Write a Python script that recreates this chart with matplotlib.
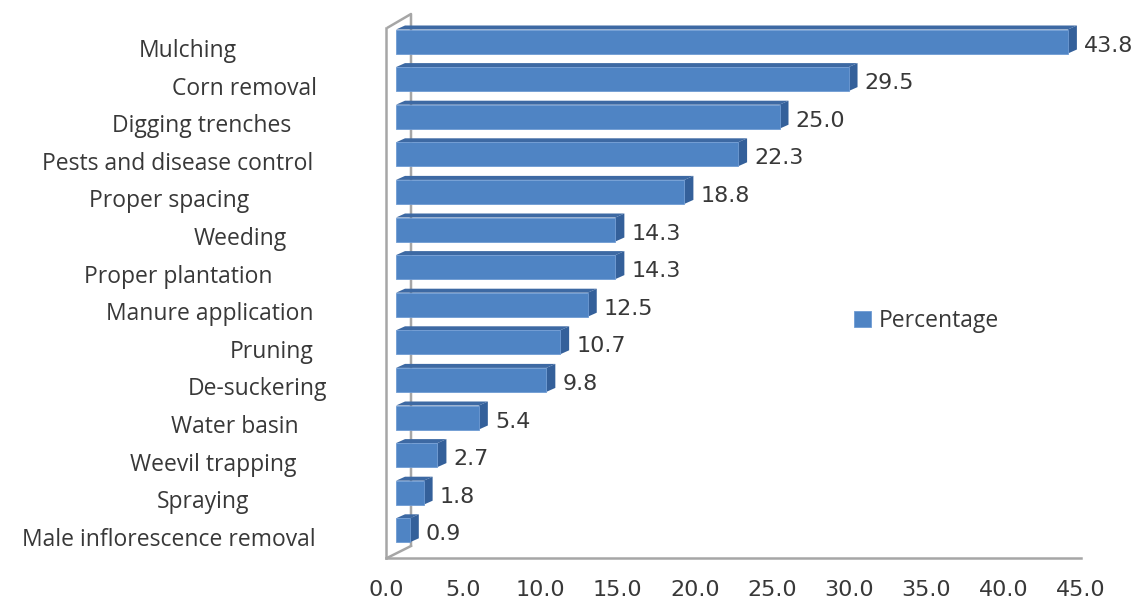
import numpy as np
import matplotlib
matplotlib.use("Agg")
import matplotlib.pyplot as plt
from matplotlib.patches import Polygon
from matplotlib import transforms

# data (top to bottom)
practices = ["Mulching", "Corn removal", "Digging trenches", "Pests and disease control",
             "Proper spacing", "Weeding", "Proper plantation", "Manure application",
             "Pruning", "De-suckering", "Water basin", "Weevil trapping", "Spraying",
             "Male inflorescence removal"]
percent = [43.8, 29.5, 25.0, 22.3, 18.8, 14.3, 14.3, 12.5, 10.7, 9.8, 5.4, 2.7, 1.8, 0.9]
xticks = [0, 5, 10, 15, 20, 25, 30, 35, 40, 45]

# label centre positions (px), the original has uneven label placement
label_cx = [188, 245, 202, 178, 169, 240, 178, 210, 272, 258, 235, 213, 203, 169]

W, H = 1138, 604
front = '#4f84c4'
top_c = '#3d69a3'
side_c = '#34609a'
wall = '#a6a6a6'
txt = '#383838'
cat_font = 'Open Sans'
num_font = 'DejaVu Sans'

fig = plt.figure(figsize=(W / 100., H / 100.), dpi=100)

# pixel overlay for walls
pix = fig.add_axes([0, 0, 1, 1], zorder=0)
pix.set_xlim(0, W)
pix.set_ylim(H, 0)
pix.axis('off')
pix.plot([387, 411, 411], [28, 14, 546], color=wall, lw=1.8, solid_capstyle='butt')
pix.plot([387, 411], [558, 546], color=wall, lw=1.8)

# front plane axis (ticks + floor + front wall edge)
fax = fig.add_axes([386. / W, (H - 558.) / H, 695. / W, (558. - 28.) / H], zorder=1)
fax.patch.set_alpha(0)
fax.set_xlim(0, 45)
fax.set_ylim(0, 1)
fax.set_xticks(xticks)
fax.set_xticklabels(['%.1f' % t for t in xticks], fontsize=16, family=num_font, color=txt)
fax.tick_params(axis='x', length=0, pad=16)
fax.set_yticks([])
for s in ['top', 'right']:
    fax.spines[s].set_visible(False)
for s in ['left', 'bottom']:
    fax.spines[s].set_color(wall)
    fax.spines[s].set_linewidth(1.8)

# bars axis
x0 = 396.
scale = 15.34
y0 = 41.5
step = 37.6
ax = fig.add_axes([x0 / W, 0, 45 * scale / W, 1], zorder=2)
ax.patch.set_alpha(0)
ax.set_xlim(0, 45)
ax.set_ylim((H - y0) / step, -y0 / step)
ax.axis('off')

pos = np.arange(len(practices))
h = 24. / step
dx = 9. / scale
dy = 4. / step
ax.barh(pos, percent, height=h, color=front, edgecolor='#6f9bd3', linewidth=0.6,
        label='Percentage', zorder=3)
for i, v in zip(pos, percent):
    t = i - h / 2
    b = i + h / 2
    ax.add_patch(Polygon([(0, t), (v, t), (v + dx, t - dy), (dx, t - dy)],
                         closed=True, facecolor=top_c, edgecolor='none', zorder=2))
    ax.add_patch(Polygon([(v, t), (v, b), (v + dx, b - dy), (v + dx, t - dy)],
                         closed=True, facecolor=side_c, edgecolor='none', zorder=2))
    ax.text(v + 16. / scale, i + 10. / step, '%.1f' % v, fontsize=16, family=num_font,
            color=txt, va='baseline', ha='left')

# category labels
tr = transforms.blended_transform_factory(pix.transData, ax.transData)
for i, (name, cx) in enumerate(zip(practices, label_cx)):
    ax.text(cx, i + 15.5 / step, name, transform=tr, fontsize=16.5, family=cat_font,
            color=txt, ha='center', va='baseline')

leg = ax.legend(loc='center left', bbox_to_anchor=(843. / W, 1 - 321. / H),
                bbox_transform=fig.transFigure, frameon=False, borderpad=0,
                handlelength=0.7, handleheight=0.7, handletextpad=0.35,
                prop={'family': cat_font, 'size': 16.5})
for t in leg.get_texts():
    t.set_color(txt)

fig.savefig('out.png', dpi=100)
